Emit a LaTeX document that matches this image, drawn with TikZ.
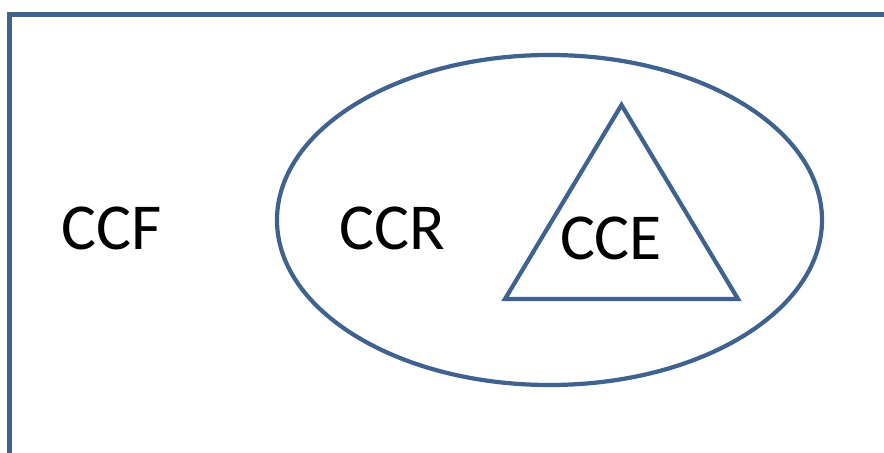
\documentclass[tikz,border=0pt]{standalone}
\usepackage{fontspec}
\setmainfont{Carlito}
\usepackage{tikz}
\usetikzlibrary{shapes.geometric,positioning}
\definecolor{setblue}{RGB}{64,98,142}

\begin{document}
\begin{tikzpicture}[x=0.03cm,y=-0.03cm,
  setline/.style={draw=setblue,line width=3.6pt},
  setlabel/.style={font=\fontsize{56}{62}\selectfont,text=black,inner sep=0pt}]
  % ---- canvas ----
  \useasboundingbox (0,0) rectangle (884,453);
  \clip (0,0) rectangle (884,453);

  % ---- outer set: CCF ----
  \draw[setline] (9.5,14.5) rectangle (920,480);
  \node[setlabel] (ccf) at (112,228) {CCF};

  % ---- middle set: CCR ----
  \node[ellipse,setline,inner sep=0pt,
        minimum width=16.35cm,minimum height=9.9cm] (ccrset) at (549.5,220) {};
  \node[setlabel] (ccr) at (392,228) {CCR};

  % ---- inner set: CCE ----
  \coordinate (apex) at (621.5,105);
  \coordinate (bl) at (505,299);
  \coordinate (br) at (738,299);
  \draw[setline,line join=miter] (apex) -- (br) -- (bl) -- cycle;
  \node[setlabel] (cce) at (611,238) {CCE};
\end{tikzpicture}
\end{document}
